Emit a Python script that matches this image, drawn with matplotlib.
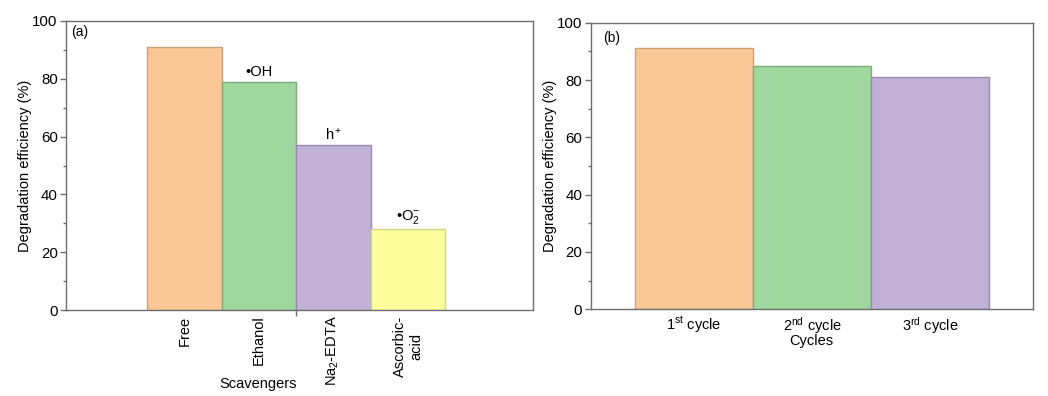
import matplotlib
matplotlib.use("Agg")
import matplotlib.pyplot as plt
from matplotlib.ticker import MultipleLocator, FixedLocator

plt.rcParams['font.family'] = ['Liberation Sans', 'DejaVu Sans']
plt.rcParams['mathtext.fontset'] = 'custom'
plt.rcParams['mathtext.rm'] = 'Liberation Sans'
plt.rcParams['mathtext.it'] = 'Liberation Sans:italic'
plt.rcParams['mathtext.bf'] = 'Liberation Sans:bold'

# Data
scavengers = ['Free', 'Ethanol', 'Na$\\mathregular{_2}$-EDTA', 'Ascorbic-\nacid']
scav_values = [91, 79, 57, 28]
scav_species = ['', '•OH', 'h$\\mathregular{^+}$', '•O$\\mathregular{_2^{-}}$']
cycles = ['1$\\mathregular{^{st}}$ cycle', '2$\\mathregular{^{nd}}$ cycle', '3$\\mathregular{^{rd}}$ cycle']
cycle_values = [91, 85, 81]

face_colors = ['#FCC796', '#A0D79E', '#C1B1D6', '#FEFE9D']
edge_colors = ['#C8A07A', '#78AE78', '#9A8AAE', '#D4D48A']
spine_color = '#6E6E6E'

fig = plt.figure(figsize=(10.48, 3.96), dpi=100)
axa = fig.add_axes([66/1048, 86/396, 467/1048, 289/396])
axb = fig.add_axes([590.7/1048, 86.7/396, 442/1048, 286.6/396])

def style(ax):
    for s in ax.spines.values():
        s.set_color(spine_color)
        s.set_linewidth(1.0)
    ax.set_ylim(0, 100)
    ax.yaxis.set_major_locator(MultipleLocator(20))
    ax.yaxis.set_minor_locator(MultipleLocator(10))
    ax.tick_params(axis='y', which='major', direction='out', length=4, width=1,
                   color=spine_color, labelsize=10.8, pad=2)
    ax.tick_params(axis='y', which='minor', direction='out', length=2.5, width=1,
                   color=spine_color)
    ax.set_ylabel('Degradation efficiency (%)', fontsize=10.5, labelpad=0)

# Panel (a)
xa = list(range(len(scavengers)))
axa.bar(xa, scav_values, width=1.0, color=face_colors, edgecolor=edge_colors, linewidth=1.0)
axa.set_xlim(-1.587, 4.68)
style(axa)
axa.set_xticks(xa)
axa.set_xticklabels(scavengers, rotation=90, fontsize=10.5, va='top', ha='center', multialignment='center')
axa.tick_params(axis='x', which='major', length=0, pad=4)
axa.xaxis.set_minor_locator(FixedLocator([1.5]))
axa.tick_params(axis='x', which='minor', length=4, width=1, color=spine_color, direction='out')
for x, v, s in zip(xa, scav_values, scav_species):
    if s:
        axa.annotate(s, (x, v), xytext=(0, 2), textcoords='offset points',
                     ha='center', va='bottom', fontsize=10.5)
axa.set_xlabel('Scavengers', fontsize=10.5)
axa.xaxis.set_label_coords(0.411, -0.232)
axa.xaxis.label.set_va('top')
axa.text(0.011, 0.985, '(a)', transform=axa.transAxes, fontsize=10, va='top', ha='left')

# Panel (b)
xb = list(range(len(cycles)))
axb.bar(xb, cycle_values, width=1.0, color=face_colors[:3], edgecolor=edge_colors[:3], linewidth=1.0)
axb.set_xlim(-0.875, 2.87)
style(axb)
axb.set_xticks(xb)
axb.set_xticklabels(cycles, fontsize=10.5)
axb.tick_params(axis='x', which='major', length=0, pad=4)
axb.set_xlabel('Cycles', fontsize=10.5)
axb.xaxis.set_label_coords(0.5, -0.086)
axb.xaxis.label.set_va('top')
axb.text(0.028, 0.97, '(b)', transform=axb.transAxes, fontsize=10, va='top', ha='left')

fig.savefig('out.png', dpi=100)
